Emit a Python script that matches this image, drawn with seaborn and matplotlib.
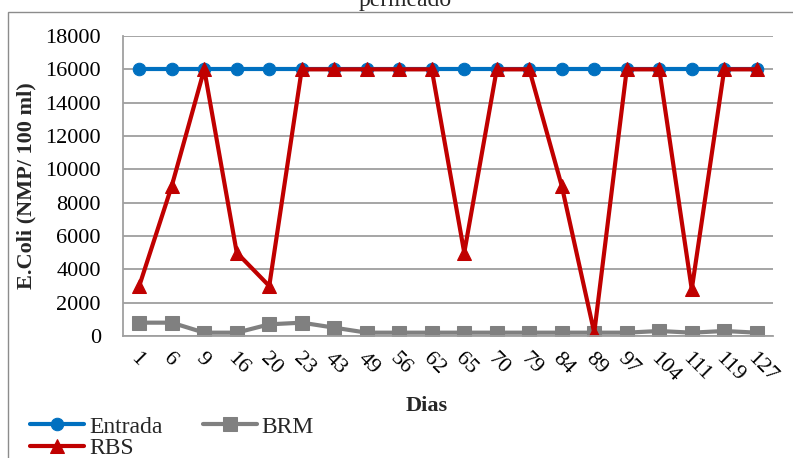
import matplotlib
matplotlib.use("Agg")
import matplotlib.pyplot as plt
from matplotlib.patches import Rectangle
from matplotlib.transforms import ScaledTranslation
import seaborn as sns
import pandas as pd

# Sampling days (category labels on the x axis)
dias = ["1", "6", "9", "16", "20", "23", "43", "49", "56", "62",
        "65", "70", "79", "84", "89", "97", "104", "111", "119", "127"]

# E. coli counts (NMP / 100 ml)
entrada = [16000] * 20
brm = [800, 800, 200, 200, 700, 800, 500, 200, 200, 200,
       200, 200, 200, 200, 200, 200, 300, 200, 300, 200]
rbs = [3000, 9000, 16000, 5000, 3000, 16000, 16000, 16000, 16000, 16000,
       5000, 16000, 16000, 9000, 200, 16000, 16000, 2800, 16000, 16000]

df = pd.DataFrame({"pos": range(len(dias)), "Dias": dias,
                   "Entrada": entrada, "BRM": brm, "RBS": rbs})

sns.set_theme(style="white")
plt.rcParams["font.family"] = ["Liberation Serif", "DejaVu Serif"]

W, H = 793, 458
fig = plt.figure(figsize=(W / 100, H / 100), dpi=100)
ax = fig.add_axes([123 / W, (H - 336) / H, 650 / W, 300 / H])

series = [
    ("Entrada", "#0070C0", "o", 9.0),
    ("BRM", "#808080", "s", 9.5),
    ("RBS", "#C00000", "^", 10.0),
]
for name, color, marker, ms in series:
    sns.lineplot(data=df, x="pos", y=name, ax=ax, color=color, lw=3.0,
                 marker=marker, markersize=ms, markeredgecolor=color,
                 markerfacecolor=color, sort=False, label=name, legend=False)

ax.set_xlim(-0.5, len(dias) - 0.5)
ax.set_ylim(0, 18000)
ax.set_yticks(range(0, 18001, 2000))
ax.set_yticklabels([str(v) for v in range(0, 18001, 2000)], fontsize=16)
ax.set_xticks(range(len(dias)))
ax.set_xticklabels(dias, fontsize=16, rotation=-45, ha="left", va="center",
                   rotation_mode="anchor")
ax.tick_params(axis="x", length=0, pad=14, colors="black")
ax.tick_params(axis="y", length=0, pad=16, colors="black")
# nudge the slanted day labels a little to the left of their ticks
shift = ScaledTranslation(-6 / 100, 0, fig.dpi_scale_trans)
for lab in ax.get_xticklabels():
    lab.set_transform(lab.get_transform() + shift)

ax.yaxis.grid(True, color="#9E9E9E", lw=1.3)
ax.xaxis.grid(False)
ax.set_axisbelow(True)
for side in ("top", "right"):
    ax.spines[side].set_visible(False)
for side in ("left", "bottom"):
    ax.spines[side].set_color("#A0A0A0")
    ax.spines[side].set_linewidth(1.3)

ax.set_xlabel("Dias", fontsize=16, fontweight="bold", va="center")
ax.xaxis.set_label_coords((427 - 123) / 650, (336 - 406) / 300)
ax.set_ylabel("E.Coli (NMP/ 100 ml)", fontsize=16, fontweight="bold", va="center")
ax.yaxis.set_label_coords((26 - 123) / 650, 0.5)

# Legend: Entrada and BRM on the first row, RBS below
h, l = ax.get_legend_handles_labels()
order = [0, 2, 1]
fig.legend([h[i] for i in order], [l[i] for i in order], loc="upper left",
           bbox_to_anchor=(30 / W, 1 - 416 / H), ncol=2, frameon=False,
           fontsize=17, borderpad=0, borderaxespad=0, handlelength=2.3,
           handletextpad=0.2, columnspacing=1.7, labelspacing=0.0)

# Chart frame and the last line of the title
fig.patches.append(Rectangle((8 / W, -0.1), 1.2, 1.1 - 12 / H,
                             transform=fig.transFigure, fill=False,
                             ec="#8C8C8C", lw=1.0))
fig.text(405 / W, 1 - 6 / H, "permeado", ha="center", va="baseline",
         fontsize=17)

fig.savefig("out.png", dpi=100)
